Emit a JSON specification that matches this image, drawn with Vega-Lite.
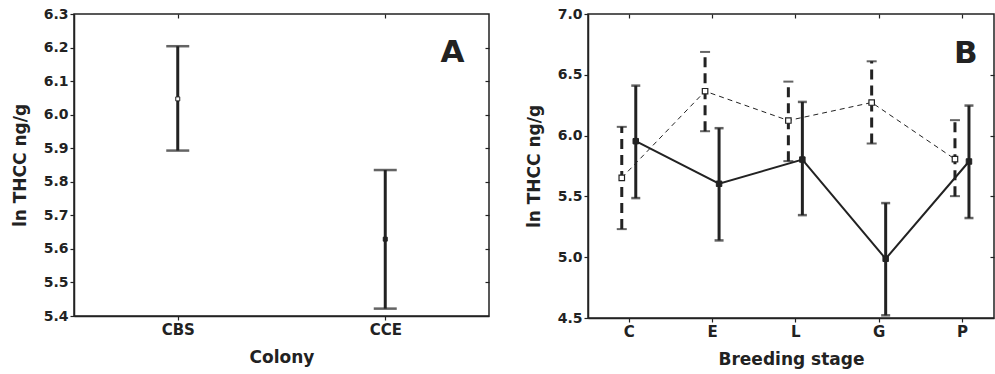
{
  "$schema": "https://vega.github.io/schema/vega-lite/v6.json",
  "background": "white",
  "padding": {"left": 10, "top": 6, "right": 0, "bottom": 3},
  "spacing": 99,
  "bounds": "flush",
  "config": {
    "font": "DejaVu Sans",
    "view": {"stroke": "#222", "strokeWidth": 1.5},
    "axis": {
      "labelFont": "DejaVu Sans", "labelFontWeight": "bold", "labelFontSize": 14, "labelColor": "#222",
      "titleFont": "DejaVu Sans", "titleFontWeight": "bold", "titleFontSize": 17, "titleColor": "#222",
      "domainColor": "#222", "domainWidth": 1.5, "tickColor": "#222", "tickSize": 4, "tickWidth": 1.2,
      "grid": false, "labelPadding": 2
    },
    "title": {"font": "DejaVu Sans", "fontWeight": "bold", "fontSize": 31, "color": "#222"}
  },
  "datasets": {
    "colony": [
      {"colony": "CBS", "mean": 6.047, "lo": 5.893, "hi": 6.204},
      {"colony": "CCE", "mean": 5.629, "lo": 5.422, "hi": 5.835}
    ],
    "stage": [
      {"stage": "C", "series": "dashed", "mean": 5.653, "lo": 5.231, "hi": 6.072},
      {"stage": "E", "series": "dashed", "mean": 6.365, "lo": 6.036, "hi": 6.688},
      {"stage": "L", "series": "dashed", "mean": 6.124, "lo": 5.79, "hi": 6.444},
      {"stage": "G", "series": "dashed", "mean": 6.272, "lo": 5.935, "hi": 6.611},
      {"stage": "P", "series": "dashed", "mean": 5.806, "lo": 5.502, "hi": 6.127},
      {"stage": "C", "series": "solid", "mean": 5.954, "lo": 5.486, "hi": 6.411},
      {"stage": "E", "series": "solid", "mean": 5.604, "lo": 5.138, "hi": 6.061},
      {"stage": "L", "series": "solid", "mean": 5.803, "lo": 5.346, "hi": 6.277},
      {"stage": "G", "series": "solid", "mean": 4.987, "lo": 4.522, "hi": 5.445},
      {"stage": "P", "series": "solid", "mean": 5.787, "lo": 5.322, "hi": 6.247}
    ]
  },
  "hconcat": [
    {
      "width": 415,
      "height": 302,
      "data": {"name": "colony"},
      "title": {"text": "A", "anchor": "end", "orient": "top", "offset": -62, "dx": -25},
      "resolve": {"axis": {"x": "independent", "y": "independent"}},
      "layer": [
        {
          "mark": {"type": "rule", "strokeWidth": 3, "color": "#222"},
          "encoding": {
            "x": {"field": "colony", "type": "nominal", "scale": {"type": "point", "padding": 0.5, "domain": ["CBS", "CCE"]},
                  "axis": {"title": "Colony", "labelAngle": 0, "orient": "bottom", "titlePadding": 12, "labelFontSize": 15}},
            "y": {"field": "lo", "type": "quantitative", "scale": {"domain": [5.4, 6.3], "nice": false, "zero": false},
                  "axis": {"title": "ln THCC ng/g", "orient": "left", "values": [5.4, 5.5, 5.6, 5.7, 5.8, 5.9, 6.0, 6.1, 6.2, 6.3], "format": ".1f", "titlePadding": 14}},
            "y2": {"field": "hi"}
          }
        },
        {
          "transform": [{"fold": ["lo", "hi"], "as": ["end", "val"]}],
          "mark": {"type": "tick", "orient": "horizontal", "size": 23, "thickness": 2.5, "color": "#222"},
          "encoding": {
            "x": {"field": "colony", "type": "nominal", "axis": null},
            "y": {"field": "val", "type": "quantitative", "axis": null}
          }
        },
        {
          "mark": {"type": "point", "shape": "square", "size": 16, "strokeWidth": 1, "stroke": "#222", "opacity": 1, "filled": true},
          "encoding": {
            "x": {"field": "colony", "type": "nominal", "axis": null},
            "y": {"field": "mean", "type": "quantitative", "axis": null},
            "fill": {"field": "colony", "type": "nominal", "scale": {"domain": ["CBS", "CCE"], "range": ["white", "#222"]}, "legend": null}
          }
        },
        {
          "mark": {"type": "point", "opacity": 0},
          "encoding": {
            "x": {"field": "colony", "type": "nominal",
                  "axis": {"orient": "top", "labels": false, "title": null, "domain": false, "tickSize": -4}},
            "y": {"field": "mean", "type": "quantitative",
                  "axis": {"orient": "right", "labels": false, "title": null, "domain": false, "tickSize": -4, "values": [5.5, 5.6, 5.7, 5.8, 5.9, 6.0, 6.1, 6.2]}}
          }
        }
      ]
    },
    {
      "width": 406,
      "height": 304,
      "data": {"name": "stage"},
      "title": {"text": "B", "anchor": "end", "orient": "top", "offset": -63, "dx": -17},
      "resolve": {"axis": {"x": "independent", "y": "independent"}},
      "layer": [
        {
          "transform": [{"filter": "datum.series === 'dashed'"}],
          "mark": {"type": "rule", "strokeWidth": 3, "color": "#222", "strokeDash": [10, 6], "xOffset": -7},
          "encoding": {
            "x": {"field": "stage", "type": "nominal", "scale": {"type": "point", "padding": 0.437, "align": 0.56, "domain": ["C", "E", "L", "G", "P"]},
                  "axis": {"title": "Breeding stage", "labelAngle": 0, "orient": "bottom", "titlePadding": 12, "labelFontSize": 15}},
            "y": {"field": "lo", "type": "quantitative", "scale": {"domain": [4.5, 7.0], "nice": false, "zero": false},
                  "axis": {"title": "ln THCC ng/g", "orient": "left", "values": [4.5, 5.0, 5.5, 6.0, 6.5, 7.0], "format": ".1f", "titlePadding": 14}},
            "y2": {"field": "hi"}
          }
        },
        {
          "transform": [{"filter": "datum.series === 'dashed'"}, {"fold": ["lo", "hi"], "as": ["end", "val"]}],
          "mark": {"type": "tick", "orient": "horizontal", "size": 10, "thickness": 2, "color": "#222", "xOffset": -7},
          "encoding": {
            "x": {"field": "stage", "type": "nominal", "axis": null},
            "y": {"field": "val", "type": "quantitative", "axis": null}
          }
        },
        {
          "transform": [{"filter": "datum.series === 'dashed'"}],
          "mark": {"type": "line", "strokeWidth": 1, "color": "#222", "strokeDash": [5, 4], "xOffset": -7},
          "encoding": {
            "x": {"field": "stage", "type": "nominal", "axis": null},
            "y": {"field": "mean", "type": "quantitative", "axis": null},
            "order": {"value": null}
          }
        },
        {
          "transform": [{"filter": "datum.series === 'solid'"}],
          "mark": {"type": "rule", "strokeWidth": 3, "color": "#222", "xOffset": 7},
          "encoding": {
            "x": {"field": "stage", "type": "nominal", "axis": null},
            "y": {"field": "lo", "type": "quantitative", "axis": null},
            "y2": {"field": "hi"}
          }
        },
        {
          "transform": [{"filter": "datum.series === 'solid'"}, {"fold": ["lo", "hi"], "as": ["end", "val"]}],
          "mark": {"type": "tick", "orient": "horizontal", "size": 9, "thickness": 2.5, "color": "#222", "xOffset": 7},
          "encoding": {
            "x": {"field": "stage", "type": "nominal", "axis": null},
            "y": {"field": "val", "type": "quantitative", "axis": null}
          }
        },
        {
          "transform": [{"filter": "datum.series === 'solid'"}],
          "mark": {"type": "line", "strokeWidth": 2, "color": "#222", "xOffset": 7},
          "encoding": {
            "x": {"field": "stage", "type": "nominal", "axis": null},
            "y": {"field": "mean", "type": "quantitative", "axis": null},
            "order": {"value": null}
          }
        },
        {
          "transform": [{"filter": "datum.series === 'dashed'"}],
          "mark": {"type": "point", "shape": "square", "size": 30, "strokeWidth": 1.2, "stroke": "#222", "fill": "white", "filled": true, "opacity": 1, "xOffset": -7},
          "encoding": {
            "x": {"field": "stage", "type": "nominal", "axis": null},
            "y": {"field": "mean", "type": "quantitative", "axis": null}
          }
        },
        {
          "transform": [{"filter": "datum.series === 'solid'"}],
          "mark": {"type": "point", "shape": "square", "size": 30, "strokeWidth": 1, "stroke": "#222", "fill": "#222", "filled": true, "opacity": 1, "xOffset": 7},
          "encoding": {
            "x": {"field": "stage", "type": "nominal",
                  "axis": {"orient": "top", "labels": false, "title": null, "domain": false, "tickSize": -4}},
            "y": {"field": "mean", "type": "quantitative",
                  "axis": {"orient": "right", "labels": false, "title": null, "domain": false, "tickSize": -4, "values": [5.0, 5.5, 6.0, 6.5]}}
          }
        }
      ]
    }
  ]
}
